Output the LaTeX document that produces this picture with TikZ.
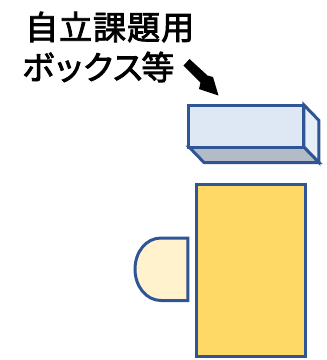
\documentclass[tikz,border=0pt]{standalone}
\usepackage{fontspec}
\newfontfamily\cjk{Noto Sans CJK JP}[LetterSpace=3,FakeBold=2.5]
\newfontfamily\cjktight{Noto Sans CJK JP}[LetterSpace=-9,FakeBold=2.5]
\tikzset{
  outlined/.style={draw=boxblue,line width=3pt,line join=miter},
  label/.style={inner sep=0pt,anchor=west},
}
\definecolor{boxblue}{HTML}{2F5597}
\definecolor{frontfill}{HTML}{DEE8F4}
\definecolor{sidefill}{HTML}{E6EEF7}
\definecolor{underfill}{HTML}{B2BBC6}
\definecolor{deskfill}{HTML}{FFD966}
\definecolor{seatfill}{HTML}{FFF2CC}
\begin{document}
\begin{tikzpicture}[x=1pt,y=-1pt]
\useasboundingbox (0,0) rectangle (327,360);
% box
\path[outlined,fill=underfill] (189,147) -- (304,147) -- (319,162.5) -- (204,162.5) -- cycle;
\path[outlined,fill=sidefill] (304,105) -- (319,120.5) -- (319,162.5) -- (304,147) -- cycle;
\path[outlined,fill=frontfill] (189,105) rectangle (304,147);
% desk
\path[outlined,fill=deskfill] (196.5,184) rectangle (305.5,356);
% seat
\path[outlined,fill=seatfill] (188,238) -- (188,300.5) -- (161,300.5)
  .. controls (146,300.5) and (135,286) .. (135,269.25)
  .. controls (135,252) and (146,238) .. (161,238) -- cycle;
% arrow
\fill[black] (183.5,65.5) -- (189.5,59) -- (207.5,75.5) -- (213,77) -- (218.5,95.5) -- (199,89) -- (200.5,82.5) -- cycle;
% labels
\node[label,font=\cjk\fontsize{33}{33}\selectfont] (line1) at (25,27) {自立課題用};
\node[label,font=\cjktight\fontsize{33}{33}\selectfont] (line2) at (22,67) {ボックス等};
\end{tikzpicture}
\end{document}
